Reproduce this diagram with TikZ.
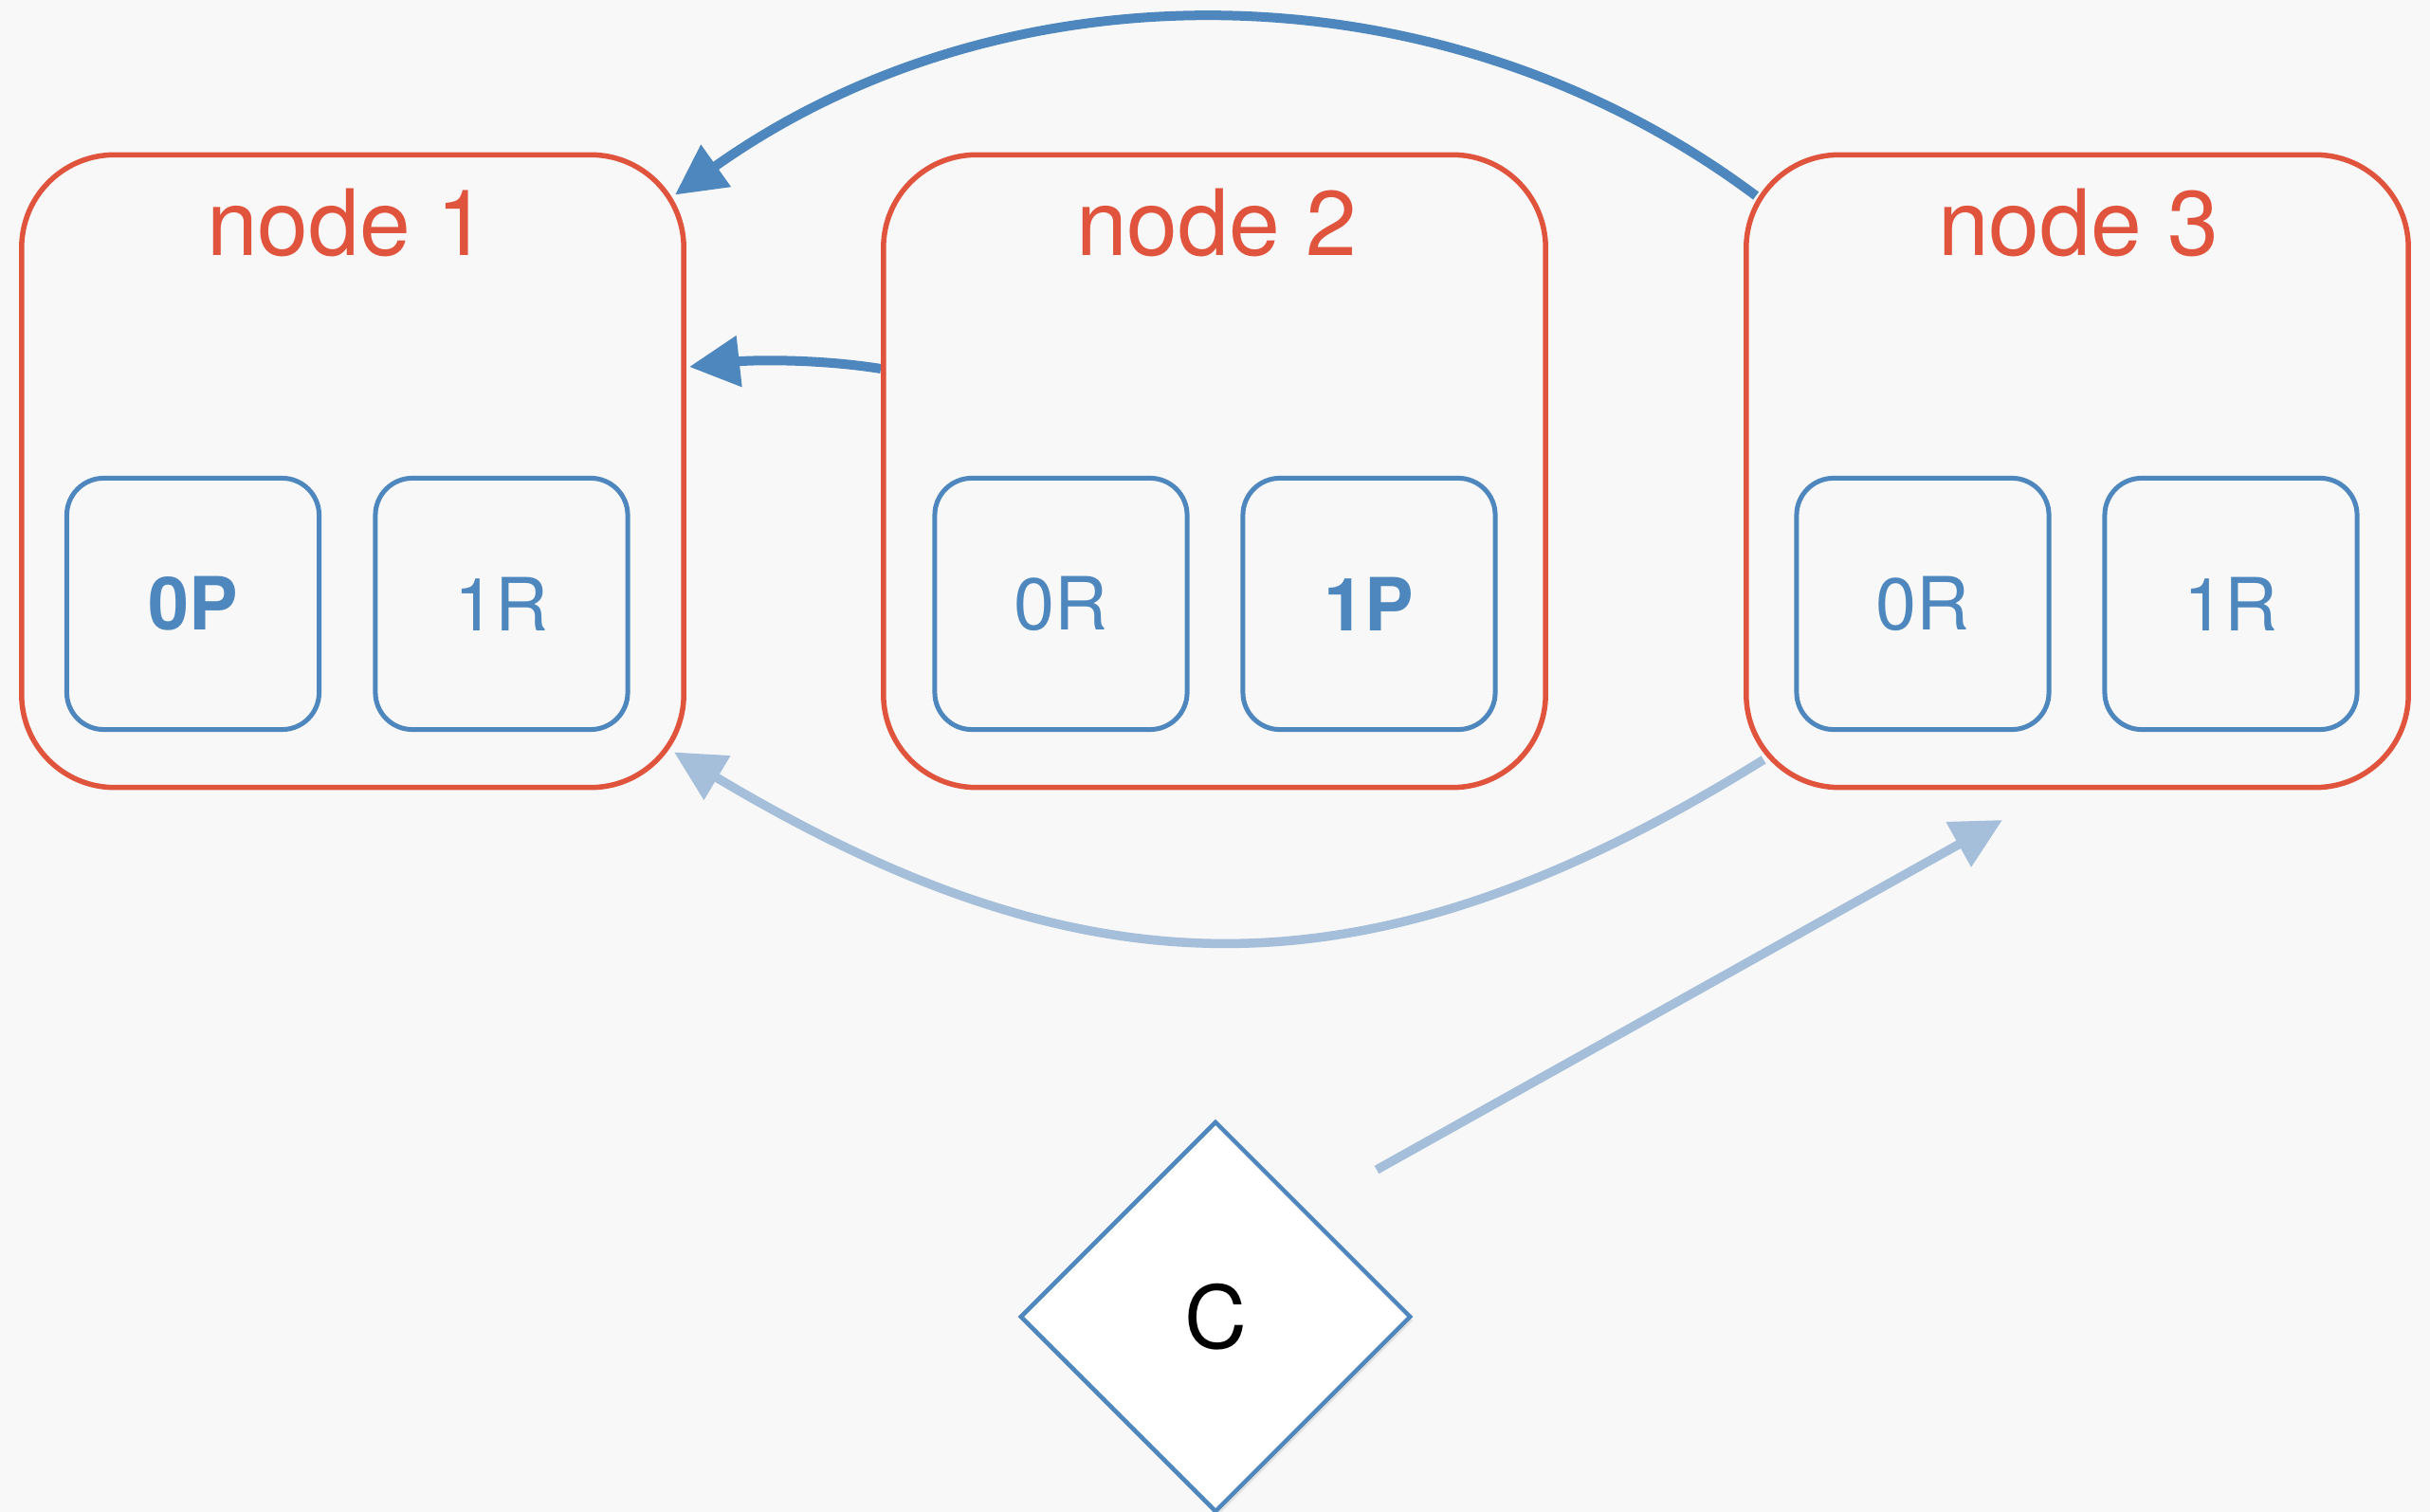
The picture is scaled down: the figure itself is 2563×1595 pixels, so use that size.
\documentclass[tikz,border=0pt]{standalone}
\usepackage{fontspec}
\setmainfont{TeX Gyre Heros}
\usetikzlibrary{arrows.meta,shapes.geometric,shadows}
\definecolor{bgcol}{HTML}{F8F8F8}
\definecolor{nred}{HTML}{E0533D}
\definecolor{pblue}{HTML}{4E87BD}
\definecolor{lblue}{HTML}{A5BFDA}
\pgfdeclarelayer{back}
\pgfdeclarelayer{links}
\pgfsetlayers{back,links,main}
\begin{document}
\begin{tikzpicture}[x=0.01cm,y=-0.01cm,
  outerbox/.style={draw=nred, line width=0.055cm, rounded corners=0.98cm, minimum width=6.98cm, minimum height=6.67cm, inner sep=0pt},
  titletext/.style={text=nred, font=\fontsize{27.5}{30}\selectfont, anchor=base, inner sep=0pt},
  innerbox/.style={draw=pblue, line width=0.05cm, rounded corners=0.39cm, minimum width=2.66cm, minimum height=2.65cm, inner sep=0pt, text=pblue, font=\fontsize{22}{24}\selectfont},
  strongtext/.style={font=\fontsize{22}{24}\selectfont\bfseries},
  darkarrow/.style={draw=pblue, line width=0.1cm, -{Triangle[length=0.53cm,width=0.52cm]}},
  lightarrow/.style={draw=lblue, line width=0.095cm, -{Triangle[length=0.53cm,width=0.52cm]}},
  decision/.style={diamond, aspect=1, draw=pblue, line width=0.045cm, fill=white, minimum width=4.12cm, minimum height=4.12cm, inner sep=0pt, font=\fontsize{26}{28}\selectfont, drop shadow={shadow xshift=0.03cm, shadow yshift=-0.04cm, opacity=0.18}}
]
\begin{pgfonlayer}{back}
\fill[bgcol] (0,0) rectangle (2563,1595);
\end{pgfonlayer}
\useasboundingbox (0,0) rectangle (2563,1595);

% outer nodes
\node[outerbox] (n1) at (372,497) {};
\node[outerbox] (n2) at (1281,497) {};
\node[outerbox] (n3) at (2191,497) {};

% titles
\node[titletext] (t1) at (366,270) {node 1};
\node[titletext] (t2) at (1283,270) {node 2};
\node[titletext] (t3) at (2192,270) {node 3};

% inner boxes
\node[innerbox, strongtext] (n1a) at (203.5,637) {0P};
\node[innerbox] (n1b) at (529,637) {1R};
\node[innerbox] (n2a) at (1119,637) {0R};
\node[innerbox, strongtext] (n2b) at (1444,637) {1P};
\node[innerbox] (n3a) at (2028,637) {0R};
\node[innerbox] (n3b) at (2353,637) {1R};

% decision
\node[decision] (c) at (1282,1389) {C};

\coordinate (cs) at (1452,1234);
\coordinate (ce) at (2112,865);

\begin{pgfonlayer}{links}
\draw[darkarrow] ([shift={(13,46)}]n3.north west) .. controls (1520,-42) and (1060,-42) .. ([shift={(-12,45)}]n1.north east);
\draw[darkarrow] ([shift={(0,-108)}]n2.west) .. controls (860,378) and (790,380) .. ([shift={(3,-110)}]n1.east);
\draw[lightarrow] ([shift={(21,-32)}]n3.south west) .. controls (1449,1057) and (1152,1057) .. ([shift={(-13,-40)}]n1.south east);
\draw[lightarrow] (cs) -- (ce);
\end{pgfonlayer}
\end{tikzpicture}
\end{document}
